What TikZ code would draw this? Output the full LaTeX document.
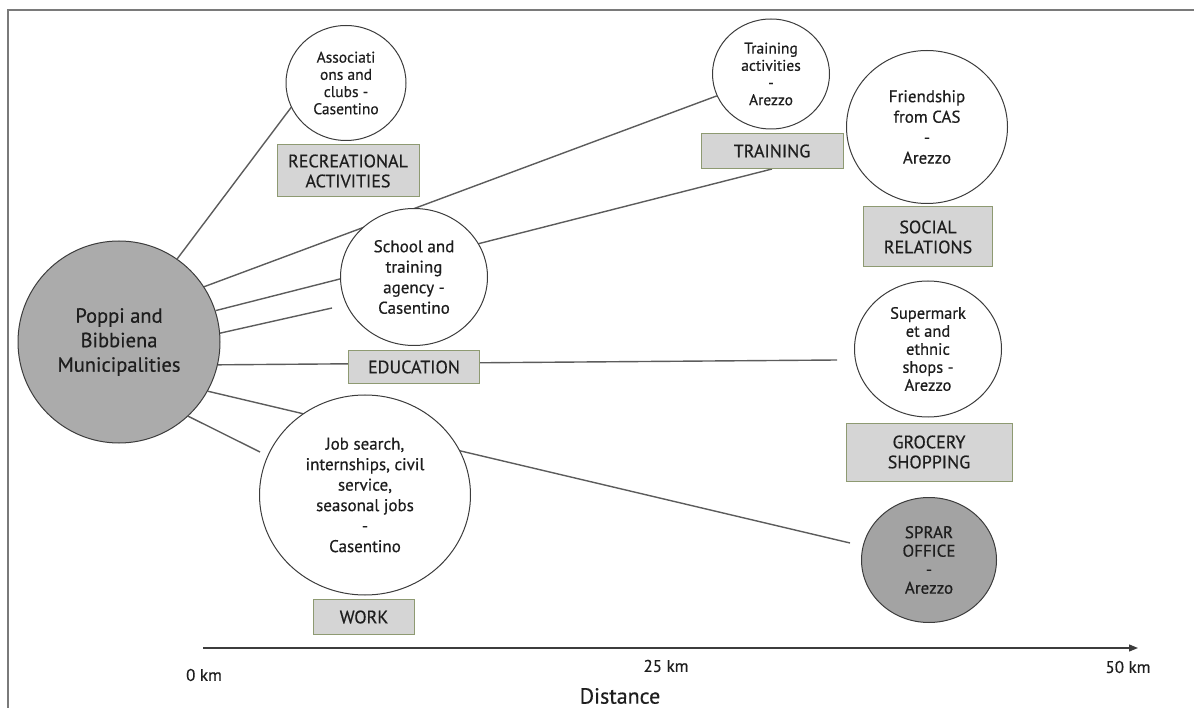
\documentclass[tikz,border=0pt]{standalone}
\usepackage{fontspec}
\setmainfont{PT Sans}[UprightFeatures={FakeBold=0.5}]
\usetikzlibrary{shapes.geometric,arrows.meta}
\definecolor{linegray}{HTML}{5C5C5C}
\definecolor{circgray}{HTML}{3C3C3C}
\definecolor{framegray}{HTML}{7A7A7A}
\definecolor{boxfill}{HTML}{D5D5D5}
\definecolor{boxborder}{HTML}{8E9A72}
\definecolor{hubfill}{HTML}{ABABAB}
\definecolor{sprarfill}{HTML}{A3A3A3}
\definecolor{textc}{HTML}{1E1E1E}
\pgfdeclarelayer{bg}
\pgfsetlayers{bg,main}
\begin{document}
\begin{tikzpicture}[x=1pt,y=-1pt,
  conn/.style={draw=linegray, line width=1.4pt},
  place/.style={ellipse, draw=circgray, line width=1pt, fill=white, align=center, inner sep=0pt, text=textc},
  cat/.style={rectangle, draw=boxborder, fill=boxfill, line width=1pt, align=center, inner sep=0pt, text=textc, font=\fontsize{18}{20}\selectfont},
  small/.style={font=\fontsize{15.5}{17.2}\selectfont},
  mid/.style={font=\fontsize{17}{20.5}\selectfont},
  axlabel/.style={text=textc, font=\fontsize{17}{19}\selectfont}
]
\useasboundingbox (0,0) rectangle (1194,708);
\draw[framegray, line width=2pt] (8,708) -- (8,10) -- (1194,10);

% hub
\node[place, fill=hubfill, minimum width=202, minimum height=202, font=\fontsize{20.5}{24.5}\selectfont] (hub) at (119,342) {Poppi and\\Bibbiena\\Municipalities};

% places
\node[place, small, minimum width=120, minimum height=115] (assoc) at (346,83) {Associati\\ons and\\clubs -\\Casentino};
\node[cat, minimum width=142, minimum height=52] (recr) at (348,171) {RECREATIONAL\\ACTIVITIES};

\node[place, mid, minimum width=147, minimum height=137] (school) at (414,277) {School and\\training\\agency -\\Casentino};
\node[cat, minimum width=131, minimum height=33] (educ) at (414,367) {EDUCATION};

\node[place, small, minimum width=117, minimum height=110] (train) at (771,74) {Training\\activities\\-\\Arezzo};
\node[cat, minimum width=142, minimum height=35] (tbox) at (772,151) {TRAINING};

\node[place, mid, minimum width=161, minimum height=153] (friend) at (927,127) {Friendship\\from CAS\\-\\Arezzo};
\node[cat, minimum width=129, minimum height=60] (social) at (928,237) {SOCIAL\\RELATIONS};

\node[place, font=\fontsize{16.5}{18}\selectfont, minimum width=147, minimum height=136] (super) at (928,349) {Supermark\\et and\\ethnic\\shops -\\Arezzo};
\node[cat, minimum width=166, minimum height=58] (groc) at (929,452) {GROCERY\\SHOPPING};

\node[place, fill=sprarfill, font=\fontsize{17}{18.5}\selectfont, minimum width=135, minimum height=125] (sprar) at (929,560) {SPRAR\\OFFICE\\-\\Arezzo};

\node[place, mid, minimum width=211, minimum height=200] (job) at (365,495) {Job search,\\internships, civil\\service,\\seasonal jobs\\-\\Casentino};
\node[cat, minimum width=101, minimum height=35] (work) at (364,617) {WORK};

% free ends of connectors
\coordinate (e4) at (332,308);
\coordinate (e5) at (837,360);
\coordinate (e6) at (850,543);
\coordinate (e7) at (260,452);

\begin{pgfonlayer}{bg}
  \draw[conn] (hub.55) -- (assoc.204);
  \draw[conn] (hub.33.5) -- (train.202);
  \draw[conn] (hub.18) -- (tbox.south);
  \draw[conn] (hub.5.7) -- (e4);
  \draw[conn] (hub.-13) -- (e5);
  \draw[conn] (hub.-29.3) -- (e6);
  \draw[conn] (hub.-47.4) -- (e7);
\end{pgfonlayer}

% axis
\coordinate (a0) at (203,648);
\coordinate (a1) at (1138,648);
\draw[draw=circgray, line width=1.3pt, -{Triangle[length=9pt,width=7pt]}] (a0) -- (a1);
\node[axlabel] (l0) at (204,675) {0 km};
\node[axlabel] (l25) at (666,666) {25 km};
\node[axlabel] (l50) at (1128,667) {50 km};
\node[text=textc, font=\fontsize{22}{24}\selectfont] (dist) at (620,696) {Distance};
\end{tikzpicture}
\end{document}
